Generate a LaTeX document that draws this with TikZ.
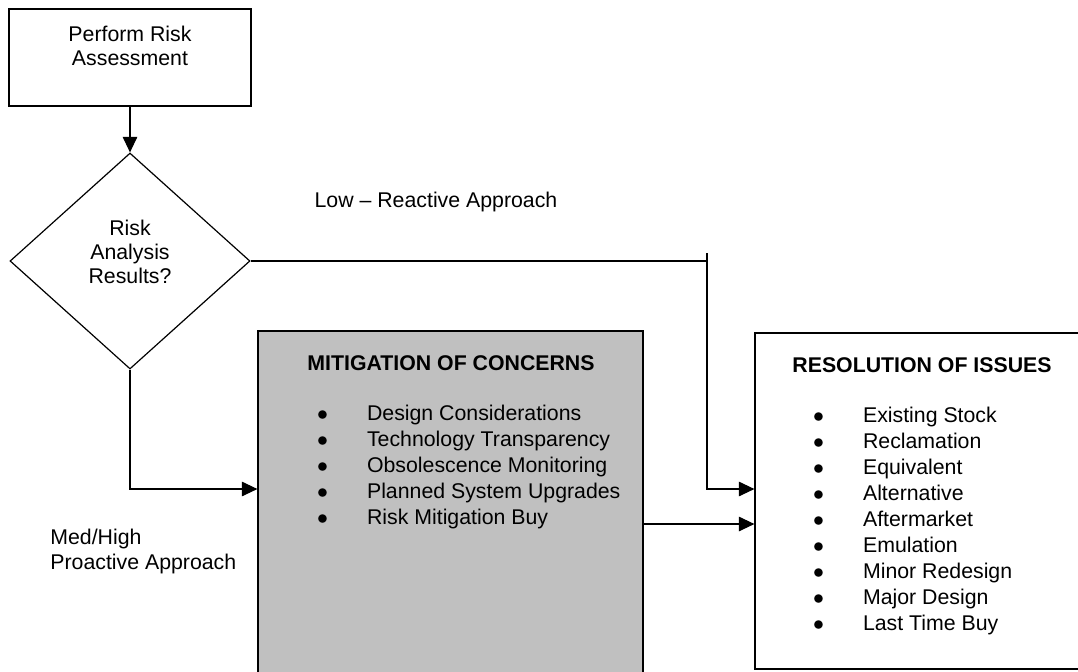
\documentclass[tikz,border=0pt]{standalone}
\usepackage{fontspec}
\setmainfont{Liberation Sans}
\usetikzlibrary{shapes.geometric,arrows.meta,positioning}
\definecolor{mgray}{HTML}{C0C0C0}
\tikzstyle{box}=[rectangle, draw=black, line width=0.6pt, inner sep=0pt]
\tikzstyle{choice}=[diamond, draw=black, line width=0.6pt, inner sep=0pt]
\tikzstyle{l1}=[line width=0.55pt]
\tikzstyle{flow}=[l1, -{Triangle[length=7.8pt, width=7.3pt]}]
\tikzstyle{txt}=[inner sep=0pt, align=center, font=\fontsize{10.65}{12}\selectfont]
\tikzstyle{head}=[inner sep=0pt, font=\fontsize{10.65}{12}\selectfont\bfseries]
\tikzstyle{items}=[inner sep=0pt, anchor=north west, font=\fontsize{10.65}{13}\selectfont]

\begin{document}
\begin{tikzpicture}[x=0.5pt, y=-0.5pt]
    \clip (0,0) rectangle (1078,671);

    % start and decision
    \node (assess) [box, txt, minimum width=121pt, minimum height=48.5pt] at (130,57.5) {Perform Risk\\Assessment\\~};
    \node (decide) [choice, minimum width=120pt, minimum height=108pt] at (130,261) {};
    \node (decidetext) [txt] at (130,252) {Risk\\Analysis\\Results?};

    % the two outcome boxes
    \node (mitig) [box, fill=mgray, minimum width=192.5pt, minimum height=184.5pt] at (450.5,515.5) {};
    \node (mitighead) [head] at (451,363) {MITIGATION OF CONCERNS};
    \node (mitiglist) [items] at (316.7,401.8) {\begin{tabular}{@{}l@{\hspace{19.5pt}}l@{}}
        $\bullet$ & Design Considerations\\
        $\bullet$ & Technology Transparency\\
        $\bullet$ & Obsolescence Monitoring\\
        $\bullet$ & Planned System Upgrades\\
        $\bullet$ & Risk Mitigation Buy
    \end{tabular}};

    \node (resol) [box, minimum width=167.5pt, minimum height=168pt] at (922.5,501) {};
    \node (resolhead) [head] at (922,365) {RESOLUTION OF ISSUES};
    \node (resollist) [items] at (812.7,403.8) {\begin{tabular}{@{}l@{\hspace{19.5pt}}l@{}}
        $\bullet$ & Existing Stock\\
        $\bullet$ & Reclamation\\
        $\bullet$ & Equivalent\\
        $\bullet$ & Alternative\\
        $\bullet$ & Aftermarket\\
        $\bullet$ & Emulation\\
        $\bullet$ & Minor Redesign\\
        $\bullet$ & Major Design\\
        $\bullet$ & Last Time Buy
    \end{tabular}};

    % path labels
    \node (lowlabel) [txt] at (436,202) {Low -- Reactive Approach};
    \node (highlabel) [txt, align=left, anchor=west, font=\fontsize{10.65}{12.5}\selectfont] at (50,551) {Med/High\\Proactive Approach};

    % connectors
    \coordinate (lowtop) at (707,253);
    \coordinate (lowbend) at (707,489);
    \coordinate (highbend) at (130,489);
    \coordinate (outlet) at (643,524);
    \draw[flow] (assess) -- (decide);
    \draw[l1] (decide.east) -- (decide.east -| lowtop);
    \draw[flow] (lowtop) -- (lowbend) -- (lowbend -| resol.west);
    \draw[flow] (decide.south) -- (highbend) -- (highbend -| mitig.west);
    \draw[flow] (outlet) -- (outlet -| resol.west);
\end{tikzpicture}
\end{document}
